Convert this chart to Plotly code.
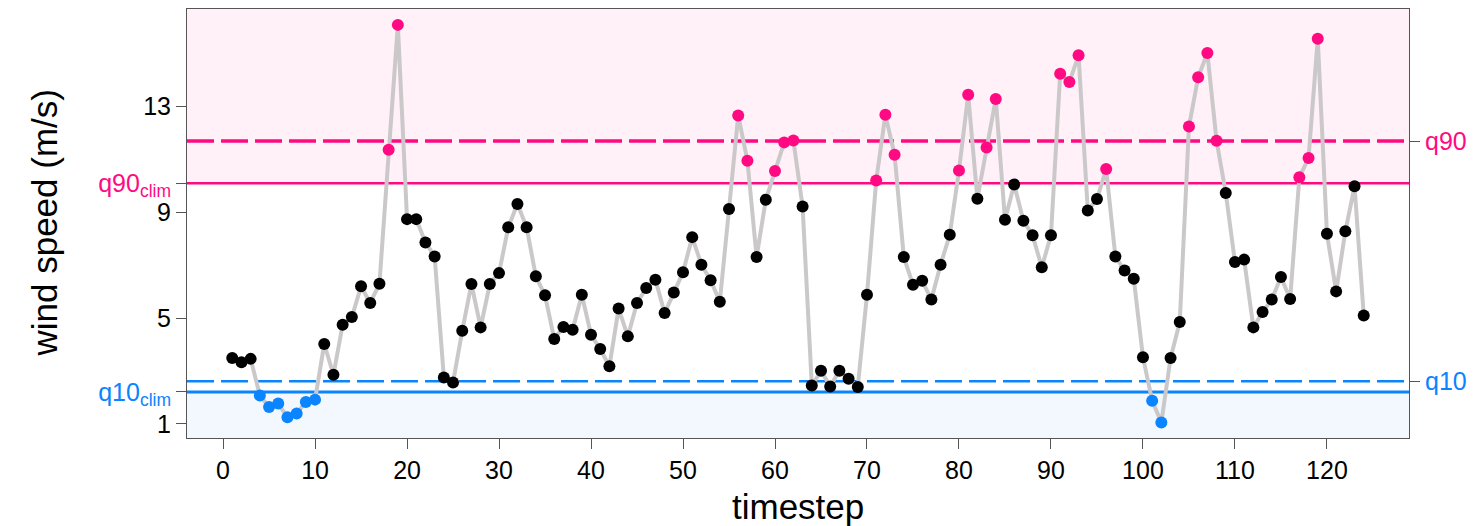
import plotly.graph_objects as go

timestep = list(range(1, 125))
wind_speed = [
    3.49, 3.33, 3.46, 2.08, 1.64, 1.77, 1.25, 1.40, 1.83, 1.92,
    4.02, 2.86, 4.75, 5.04, 6.20, 5.57, 6.30, 11.36, 16.08, 8.74,
    8.74, 7.86, 7.33, 2.76, 2.57, 4.52, 6.29, 4.65, 6.29, 6.70,
    8.43, 9.31, 8.43, 6.58, 5.86, 4.21, 4.66, 4.56, 5.88, 4.37,
    3.83, 3.18, 5.36, 4.31, 5.57, 6.14, 6.45, 5.19, 5.97, 6.73,
    8.06, 7.02, 6.43, 5.62, 9.12, 12.66, 10.95, 7.31, 9.47, 10.56,
    11.64, 11.71, 9.22, 2.45, 3.01, 2.42, 3.01, 2.71, 2.40, 5.88,
    10.20, 12.68, 11.17, 7.31, 6.26, 6.41, 5.70, 7.02, 8.15, 10.58,
    13.44, 9.51, 11.45, 13.28, 8.72, 10.05, 8.68, 8.13, 6.92, 8.13,
    14.23, 13.92, 14.93, 9.07, 9.50, 10.63, 7.33, 6.80, 6.49, 3.52,
    1.88, 1.06, 3.49, 4.85, 12.24, 14.10, 15.02, 11.70, 9.73, 7.12,
    7.21, 4.65, 5.23, 5.70, 6.55, 5.72, 10.32, 11.05, 15.56, 8.19,
    6.01, 8.28, 9.98, 5.10,
]

q90_clim = 10.10
q10_clim = 2.21
q90 = 11.69
q10 = 2.61

y_ticks = [1, 5, 9, 13]
x_ticks = list(range(0, 121, 10))

PINK = "#FF0A82"
BLUE = "#0A84FF"
X_RANGE = [-3.92, 128.92]
Y_RANGE = [0.47, 16.68]

colors = [PINK if v > q90_clim else (BLUE if v < q10_clim else "black") for v in wind_speed]

fig = go.Figure()
fig.add_trace(go.Scatter(
    x=timestep, y=wind_speed, mode="lines+markers",
    line=dict(color="#CBC8CA", width=4),
    marker=dict(color=colors, size=12, line=dict(width=0)),
    showlegend=False, hoverinfo="x+y",
))
# invisible trace to create the right-hand axis
fig.add_trace(go.Scatter(
    x=[timestep[0], timestep[-1]], y=[q10, q90], yaxis="y2", mode="markers",
    marker=dict(opacity=0), showlegend=False, hoverinfo="skip",
))

shapes = [
    dict(type="rect", xref="paper", yref="y", x0=0, x1=1, y0=q90_clim, y1=Y_RANGE[1],
         fillcolor="#FFF1F7", line=dict(width=0), layer="below"),
    dict(type="rect", xref="paper", yref="y", x0=0, x1=1, y0=Y_RANGE[0], y1=q10_clim,
         fillcolor="#F3F8FF", line=dict(width=0), layer="below"),
    dict(type="line", xref="paper", yref="y", x0=0, x1=1, y0=q90_clim, y1=q90_clim,
         line=dict(color=PINK, width=2.5), layer="below"),
    dict(type="line", xref="paper", yref="y", x0=0, x1=1, y0=q90, y1=q90,
         line=dict(color=PINK, width=3.5, dash="27px,7px"), layer="below"),
    dict(type="line", xref="paper", yref="y", x0=0, x1=1, y0=q10_clim, y1=q10_clim,
         line=dict(color=BLUE, width=3), layer="below"),
    dict(type="line", xref="paper", yref="y", x0=0, x1=1, y0=q10, y1=q10,
         line=dict(color=BLUE, width=2.5, dash="27px,7px"), layer="below"),
]

left_vals = y_ticks + [q10_clim, q90_clim]
left_text = [str(v) for v in y_ticks] + [
    f'<span style="color:{BLUE}">q10<sub>clim</sub></span>',
    f'<span style="color:{PINK}">q90<sub>clim</sub></span>',
]

FONT = "Liberation Sans, Arial, sans-serif"

fig.update_layout(
    width=1469, height=518,
    margin=dict(l=179, r=68, t=1, b=88),
    paper_bgcolor="white", plot_bgcolor="white",
    font=dict(family=FONT, size=25, color="black"),
    shapes=shapes,
    xaxis=dict(range=X_RANGE, tickvals=x_ticks, ticks="outside", ticklen=10,
               tickcolor="#555", showgrid=False, zeroline=False,
               showline=True, linecolor="#555", linewidth=1, mirror=True,
               tickfont=dict(size=25)),
    yaxis=dict(range=Y_RANGE, tickvals=left_vals, ticktext=left_text,
               ticks="outside", ticklen=10, tickcolor="#555", showgrid=False,
               zeroline=False, showline=True, linecolor="#555", linewidth=1,
               mirror=True, tickfont=dict(size=25)),
    yaxis2=dict(range=Y_RANGE, overlaying="y", side="right", tickvals=[q10, q90],
                ticktext=[f'<span style="color:{BLUE}">q10</span>',
                          f'<span style="color:{PINK}">q90</span>'],
                ticks="outside", ticklen=10, tickcolor="#555", showgrid=False,
                zeroline=False, showline=False, tickfont=dict(size=25)),
    annotations=[
        dict(text="wind speed (m/s)", xref="paper", yref="paper", x=-0.117, y=0.5,
             textangle=-90, showarrow=False, font=dict(size=35), xanchor="center",
             yanchor="middle"),
        dict(text="timestep", xref="paper", yref="paper", x=0.5, y=-0.16,
             showarrow=False, font=dict(size=35), xanchor="center", yanchor="middle"),
    ],
)

fig.write_html("out.html")
